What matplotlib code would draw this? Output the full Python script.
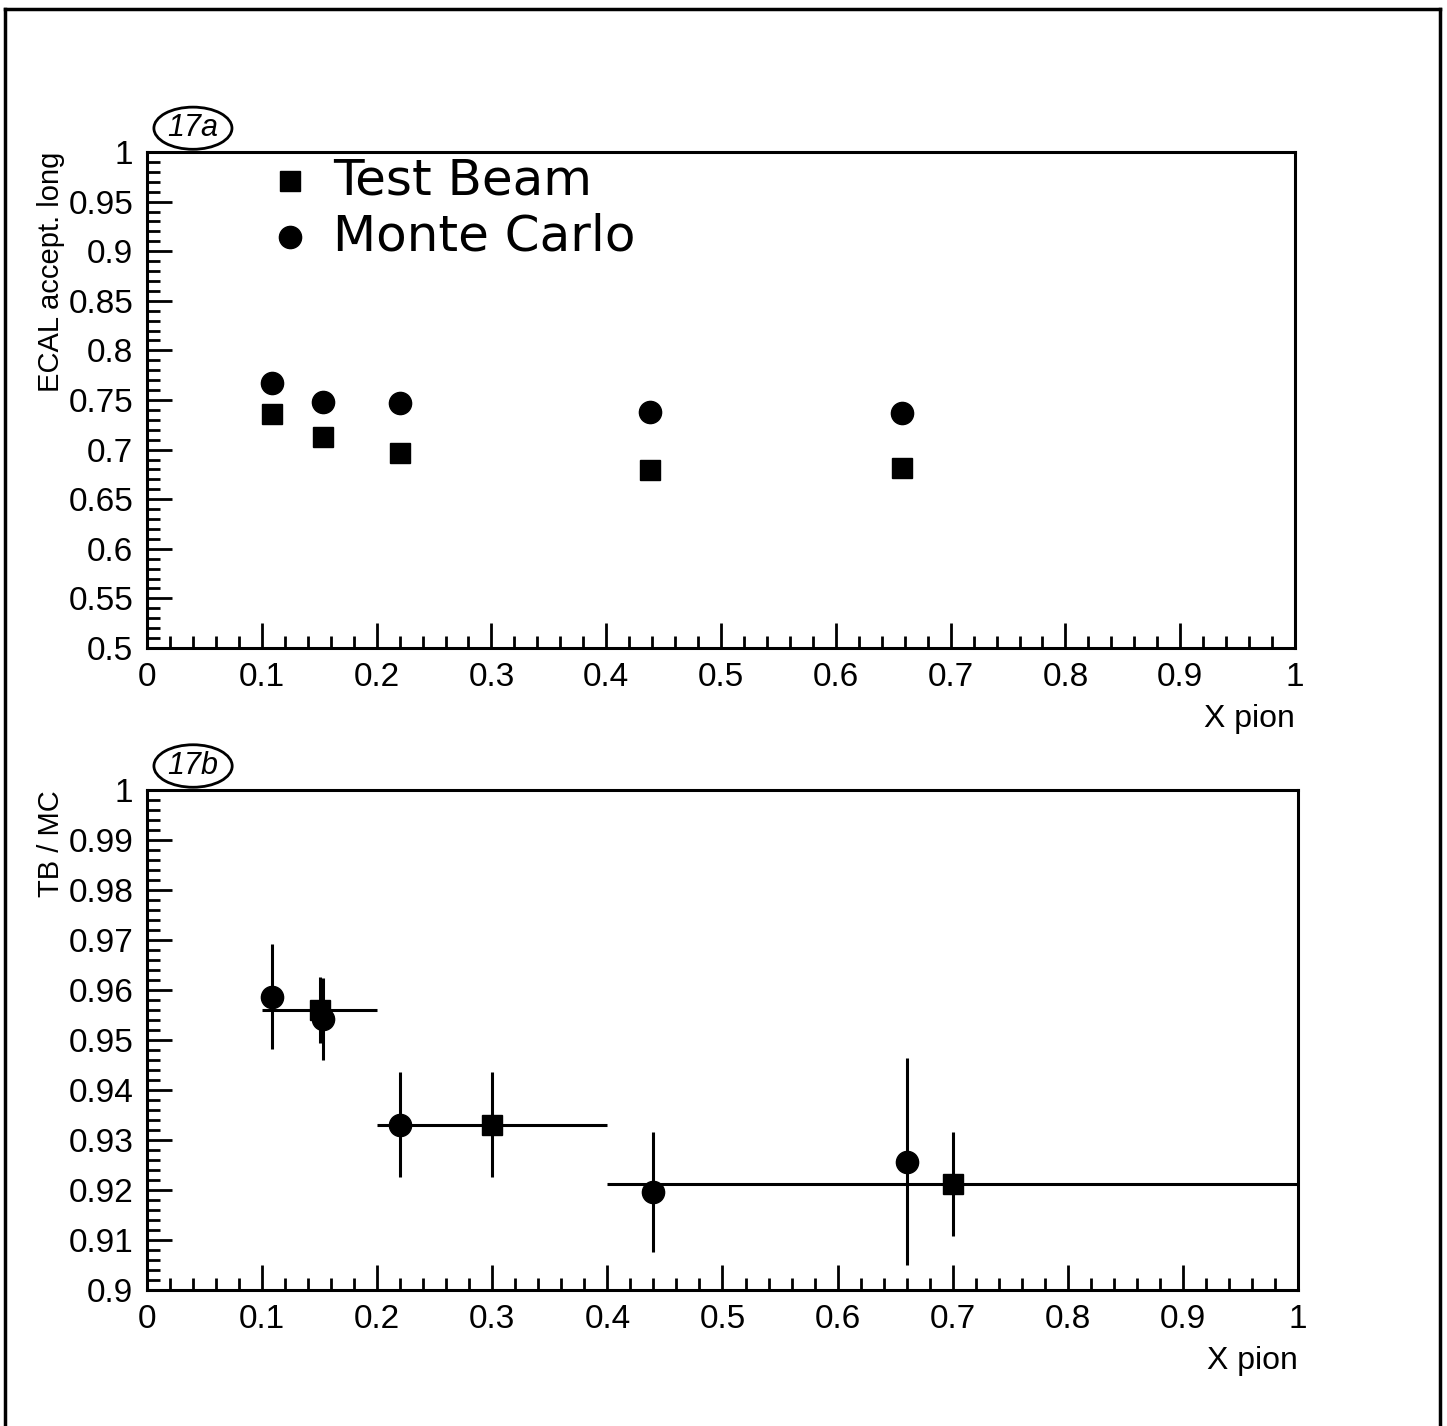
import matplotlib.pyplot as plt
from matplotlib.patches import Ellipse
from matplotlib.ticker import MultipleLocator

plt.rcParams['font.family'] = ['Liberation Sans', 'DejaVu Sans']

# top panel: ECAL acceptance vs x pion
x_top = [0.109, 0.153, 0.220, 0.438, 0.658]
tb_top = [0.736, 0.713, 0.697, 0.679, 0.681]
mc_top = [0.767, 0.748, 0.747, 0.738, 0.737]

# bottom panel: TB / MC ratio
x_tb = [0.15, 0.30, 0.70]
xerr_tb = [0.05, 0.10, 0.30]
y_tb = [0.956, 0.933, 0.9212]
yerr_tb = [0.0066, 0.0105, 0.0104]

x_mc = [0.109, 0.153, 0.220, 0.440, 0.660]
y_mc = [0.9586, 0.9542, 0.933, 0.9196, 0.9256]
yerr_mc = [0.0105, 0.0082, 0.0105, 0.012, 0.0207]

legend_labels = ['Test Beam', 'Monte Carlo']

fig = plt.figure(figsize=(14.47, 14.26), dpi=100)

# page frame
fig.add_artist(plt.Line2D([0.0035, 0.0035], [0.0, 0.9935], color='black', lw=2.5))
fig.add_artist(plt.Line2D([0.0035, 0.995], [0.9935, 0.9935], color='black', lw=2.5))
fig.add_artist(plt.Line2D([0.995, 0.995], [0.0, 0.9935], color='black', lw=2.5))

ax1 = fig.add_axes([0.1016, 0.5456, 0.7934, 0.3478])
ax2 = fig.add_axes([0.1016, 0.0954, 0.7954, 0.3506])


def style(ax, ymaj, ymin):
    ax.set_xlim(0, 1)
    ax.xaxis.set_major_locator(MultipleLocator(0.1))
    ax.xaxis.set_minor_locator(MultipleLocator(0.02))
    ax.yaxis.set_major_locator(MultipleLocator(ymaj))
    ax.yaxis.set_minor_locator(MultipleLocator(ymin))
    ax.tick_params(which='both', direction='in', top=False, right=False,
                   width=2, labelsize=24, pad=10)
    ax.tick_params(which='major', length=18)
    ax.tick_params(which='minor', length=9)
    for s in ax.spines.values():
        s.set_linewidth(2.2)
    ax.xaxis.set_major_formatter(plt.FuncFormatter(lambda v, p: f'{v:g}'))
    ax.yaxis.set_major_formatter(plt.FuncFormatter(lambda v, p: f'{v:g}'))
    ax.set_xlabel('X pion', fontsize=23, loc='right', labelpad=8)


style(ax1, 0.05, 0.01)
ax1.set_ylim(0.5, 1.0)
ax1.plot(x_top, tb_top, 's', color='black', ms=15, ls='none')
ax1.plot(x_top, mc_top, 'o', color='black', ms=16, ls='none')
ax1.set_ylabel('ECAL accept. long', fontsize=21, loc='top', labelpad=2)

# legend drawn by hand, as in the original
ax1.plot([0.1246], [0.9415], 's', color='black', ms=15, transform=ax1.transAxes, clip_on=False)
ax1.plot([0.1246], [0.8286], 'o', color='black', ms=16, transform=ax1.transAxes, clip_on=False)
ax1.text(0.162, 0.943, legend_labels[0], fontsize=36, family='DejaVu Sans',
         va='center', transform=ax1.transAxes)
ax1.text(0.162, 0.829, legend_labels[1], fontsize=36, family='DejaVu Sans',
         va='center', transform=ax1.transAxes)

style(ax2, 0.01, 0.002)
ax2.set_ylim(0.9, 1.0)
ax2.errorbar(x_tb, y_tb, xerr=xerr_tb, yerr=yerr_tb, fmt='s', color='black',
             ms=15, elinewidth=2.2, capsize=0)
ax2.errorbar(x_mc, y_mc, yerr=yerr_mc, fmt='o', color='black',
             ms=16, elinewidth=2.2, capsize=0)
ax2.set_ylabel('TB / MC', fontsize=21, loc='top', labelpad=2)

# hand-written panel tags
for ax, tag in [(ax1, '17a'), (ax2, '17b')]:
    ax.add_patch(Ellipse((0.04, 1.048), 0.068, 0.085, transform=ax.transAxes,
                         fill=False, lw=2, clip_on=False))
    ax.text(0.04, 1.048, tag, transform=ax.transAxes, fontsize=22,
            style='italic', ha='center', va='center')

fig.savefig('out.png', dpi=100)
